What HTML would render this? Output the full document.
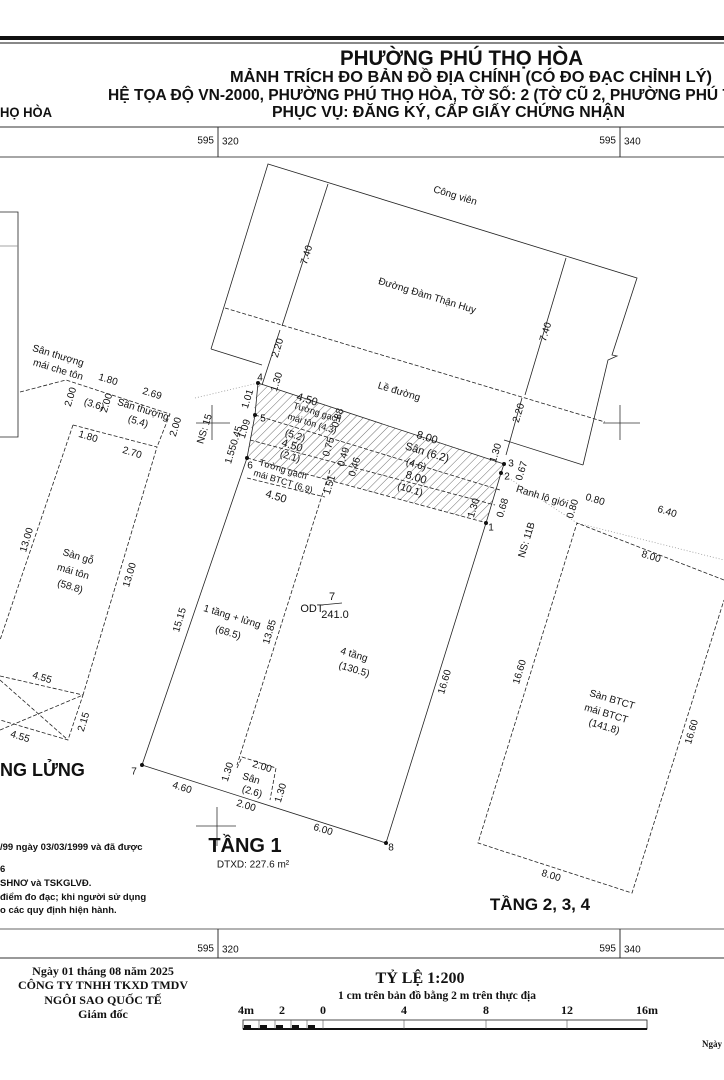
<!DOCTYPE html>
<html><head><meta charset="utf-8"><style>
html,body{margin:0;padding:0;background:#fff;width:724px;height:1080px;overflow:hidden}
svg{display:block}
.t{font-family:"Liberation Sans",sans-serif;font-size:10px;fill:#111;text-anchor:middle;dominant-baseline:middle}
.b{font-family:"Liberation Sans",sans-serif;font-weight:bold;fill:#111;text-anchor:middle}
.s{font-family:"Liberation Serif",serif;font-weight:bold;fill:#111;text-anchor:middle}
.d{stroke:#222;stroke-width:0.8;fill:none;stroke-dasharray:4 2}
.l{stroke:#222;stroke-width:0.8;fill:none}
</style></head><body>
<svg width="724" height="1080" viewBox="0 0 724 1080" xmlns="http://www.w3.org/2000/svg">
<defs>
<pattern id="h" width="6" height="6" patternUnits="userSpaceOnUse" patternTransform="rotate(45)">
<line x1="0" y1="0" x2="0" y2="6" stroke="#333" stroke-width="0.7"/></pattern>
</defs>
<!-- header frame -->
<rect x="0" y="36" width="724" height="4" fill="#111"/>
<line x1="0" y1="43" x2="724" y2="43" stroke="#111" stroke-width="1"/>
<text class="b" x="340" y="65" font-size="21" style="text-anchor:start" textLength="243" lengthAdjust="spacingAndGlyphs">PHƯỜNG PHÚ THỌ HÒA</text>
<text class="b" x="230" y="82" font-size="16" style="text-anchor:start" textLength="482" lengthAdjust="spacingAndGlyphs">MẢNH TRÍCH ĐO BẢN ĐỒ ĐỊA CHÍNH (CÓ ĐO ĐẠC CHỈNH LÝ)</text>
<text class="b" x="108" y="100" font-size="16" style="text-anchor:start" textLength="624" lengthAdjust="spacingAndGlyphs">HỆ TỌA ĐỘ VN-2000, PHƯỜNG PHÚ THỌ HÒA, TỜ SỐ: 2 (TỜ CŨ 2, PHƯỜNG PHÚ T</text>
<text class="b" x="272" y="117" font-size="16" style="text-anchor:start" textLength="353" lengthAdjust="spacingAndGlyphs">PHỤC VỤ: ĐĂNG KÝ, CẤP GIẤY CHỨNG NHẬN</text>
<text class="b" x="0" y="117" font-size="14" style="text-anchor:start" textLength="52" lengthAdjust="spacingAndGlyphs">HỌ HÒA</text>
<line x1="0" y1="127" x2="724" y2="127" stroke="#333" stroke-width="1"/>
<line x1="0" y1="157" x2="724" y2="157" stroke="#888" stroke-width="1.5"/>
<line x1="218" y1="127" x2="218" y2="157" stroke="#333"/>
<line x1="620" y1="127" x2="620" y2="157" stroke="#333"/>
<text class="t" x="214" y="141" style="text-anchor:end" font-size="11">595</text>
<text class="t" x="222" y="142" style="text-anchor:start" font-size="13">320</text>
<text class="t" x="616" y="141" style="text-anchor:end" font-size="11">595</text>
<text class="t" x="624" y="142" style="text-anchor:start" font-size="13">340</text>
<!-- left frame box -->
<polyline points="0,212 18,212 18,437 0,437" class="l" stroke="#888"/>
<line x1="0" y1="246" x2="18" y2="246" stroke="#888" stroke-width="0.8"/>
<!-- road -->
<polyline class="l" points="211,349 268,164 637,278 612,355 617,356 608,360 583,465"/>
<line class="l" x1="211" y1="349" x2="262" y2="365"/>
<line class="d" x1="225" y1="308" x2="605" y2="422"/>
<line class="l" x1="583" y1="465" x2="504" y2="440"/>
<line class="l" x1="328" y1="184" x2="282" y2="326"/>
<line class="l" x1="566" y1="258" x2="525" y2="395"/>
<line class="l" x1="280" y1="330" x2="262" y2="385"/>
<line class="l" x1="522" y1="398" x2="506" y2="455"/>
<!-- dotted ranh lines -->
<polyline points="195,398 258,383" stroke="#999" stroke-width="0.8" fill="none" stroke-dasharray="1 2"/>
<polyline points="501,473 577,523 724,560" stroke="#999" stroke-width="0.8" fill="none" stroke-dasharray="1 2"/>
<!-- hatched strip -->
<polygon points="258,383 504,464 501,473 486,523 247,458" fill="url(#h)" stroke="none"/>
<polyline class="l" points="258,383 504,464 501,473 486,523"/>
<line class="d" x1="255" y1="415" x2="500" y2="490"/>
<line class="d" x1="250" y1="440" x2="495" y2="505"/>
<line class="d" x1="247" y1="458" x2="487" y2="523"/>
<polyline class="l" points="258,383 255,415 247,458"/>
<!-- tang 1 -->
<polyline class="l" points="247,458 142,765 386,843 486,523"/>
<line class="d" x1="247" y1="478" x2="325" y2="497"/>
<line class="d" x1="330" y1="470" x2="237" y2="765"/>
<polyline class="d" points="237,768 242,757 276,768 270,800"/>
<!-- left building -->
<polyline class="d" points="20,392 66,380 170,414 157,447"/>
<polyline class="d" points="73,425 157,447 83,695"/>
<line class="d" x1="73" y1="425" x2="0" y2="640"/>
<polyline class="d" points="0,676 83,695 68,740 0,720"/>
<line class="d" x1="0" y1="730" x2="83" y2="695"/>
<line class="d" x1="0" y1="680" x2="68" y2="740"/>
<!-- tang 2 -->
<polyline class="d" points="724,580 577,523 478,843 632,893 724,600"/>
<!-- crosses -->
<g stroke="#333" stroke-width="0.8">
<line x1="196" y1="423" x2="230" y2="423"/><line x1="212" y1="405" x2="212" y2="440"/>
<line x1="603" y1="423" x2="640" y2="423"/><line x1="620" y1="405" x2="620" y2="440"/>
<line x1="196" y1="826" x2="236" y2="826"/><line x1="217" y1="807" x2="217" y2="846"/>
</g>
<!-- points -->
<g fill="#111"><circle cx="258" cy="383" r="2"/><circle cx="255" cy="415" r="2"/><circle cx="247" cy="458" r="2"/><circle cx="504" cy="464" r="2"/><circle cx="501" cy="473" r="2"/><circle cx="486" cy="523" r="2"/><circle cx="142" cy="765" r="2"/><circle cx="386" cy="843" r="2"/></g>
<!-- labels rot 17 -->
<g class="t">
<text transform="translate(455,196) rotate(17)">Công viên</text>
<text transform="translate(427,296) rotate(17)">Đường Đàm Thận Huy</text>
<text transform="translate(399,392) rotate(17)">Lề đường</text>
<text transform="translate(307,400) rotate(17)" font-size="11">4.50</text>
<text transform="translate(317,413) rotate(17)" font-size="9">Tường gạch</text>
<text transform="translate(312,424) rotate(17)" font-size="9">mái tôn (4.3)</text>
<text transform="translate(295,436) rotate(17)">(5.2)</text>
<text transform="translate(292,446) rotate(17)" font-size="11">4.50</text>
<text transform="translate(290,457) rotate(17)">(2.1)</text>
<text transform="translate(427,438) rotate(17)" font-size="11">8.00</text>
<text transform="translate(427,453) rotate(17)" font-size="11">Sân (6.2)</text>
<text transform="translate(416,465) rotate(17)">(4.6)</text>
<text transform="translate(416,478) rotate(17)" font-size="11">8.00</text>
<text transform="translate(410,490) rotate(17)">(10.1)</text>
<text transform="translate(283,470) rotate(17)" font-size="9">Tường gạch</text>
<text transform="translate(283,482) rotate(17)" font-size="9">mái BTCT (6.9)</text>
<text transform="translate(276,497) rotate(17)" font-size="11">4.50</text>
<text transform="translate(542,497) rotate(17)">Ranh lộ giới</text>
<text transform="translate(595,500) rotate(17)">0.80</text>
<text transform="translate(667,512) rotate(17)">6.40</text>
<text transform="translate(58,356) rotate(17)">Sân thượng</text>
<text transform="translate(58,370) rotate(17)">mái che tôn</text>
<text transform="translate(108,380) rotate(17)">1.80</text>
<text transform="translate(152,394) rotate(17)">2.69</text>
<text transform="translate(94,405) rotate(17)">(3.6)</text>
<text transform="translate(143,410) rotate(17)">Sân thượng</text>
<text transform="translate(138,422) rotate(17)">(5.4)</text>
<text transform="translate(88,437) rotate(17)">1.80</text>
<text transform="translate(132,453) rotate(17)">2.70</text>
<text transform="translate(78,557) rotate(17)">Sàn gỗ</text>
<text transform="translate(73,572) rotate(17)">mái tôn</text>
<text transform="translate(70,587) rotate(17)">(58.8)</text>
<text transform="translate(232,617) rotate(17)">1 tầng + lửng</text>
<text transform="translate(228,633) rotate(17)">(68.5)</text>
<text transform="translate(354,655) rotate(17)">4 tầng</text>
<text transform="translate(354,670) rotate(17)">(130.5)</text>
<text transform="translate(42,678) rotate(17)">4.55</text>
<text transform="translate(20,737) rotate(17)">4.55</text>
<text transform="translate(182,788) rotate(17)">4.60</text>
<text transform="translate(262,767) rotate(17)">2.00</text>
<text transform="translate(251,779) rotate(17)">Sân</text>
<text transform="translate(252,792) rotate(17)">(2.6)</text>
<text transform="translate(246,806) rotate(17)">2.00</text>
<text transform="translate(323,830) rotate(17)">6.00</text>
<text transform="translate(651,557) rotate(17)">8.00</text>
<text transform="translate(612,700) rotate(17)">Sàn BTCT</text>
<text transform="translate(606,714) rotate(17)">mái BTCT</text>
<text transform="translate(604,727) rotate(17)">(141.8)</text>
<text transform="translate(551,876) rotate(17)">8.00</text>
</g>
<!-- labels rot -73 -->
<g class="t">
<text transform="translate(307,255) rotate(-73)">7.40</text>
<text transform="translate(546,332) rotate(-73)">7.40</text>
<text transform="translate(278,348) rotate(-73)">2.20</text>
<text transform="translate(519,413) rotate(-73)">2.20</text>
<text transform="translate(277,382) rotate(-73)">1.30</text>
<text transform="translate(248,399) rotate(-73)">1.01</text>
<text transform="translate(245,429) rotate(-73)">1.09</text>
<text transform="translate(234,445) rotate(-73)">1.550.45</text>
<text transform="translate(338,418) rotate(-73)">0.88</text>
<text transform="translate(329,447) rotate(-73)">0.75</text>
<text transform="translate(344,457) rotate(-73)">0.49</text>
<text transform="translate(355,467) rotate(-73)">0.46</text>
<text transform="translate(496,453) rotate(-73)">1.30</text>
<text transform="translate(522,471) rotate(-73)">0.67</text>
<text transform="translate(474,508) rotate(-73)">1.30</text>
<text transform="translate(503,508) rotate(-73)">0.68</text>
<text transform="translate(573,509) rotate(-73)">0.80</text>
<text transform="translate(205,429) rotate(-73)">NS: 15</text>
<text transform="translate(527,540) rotate(-73)">NS: 11B</text>
<text transform="translate(330,485) rotate(-73)">1.51</text>
<text transform="translate(71,397) rotate(-73)">2.00</text>
<text transform="translate(107,403) rotate(-73)">2.00</text>
<text transform="translate(176,427) rotate(-73)">2.00</text>
<text transform="translate(27,540) rotate(-73)">13.00</text>
<text transform="translate(130,575) rotate(-73)">13.00</text>
<text transform="translate(180,620) rotate(-73)">15.15</text>
<text transform="translate(270,632) rotate(-73)">13.85</text>
<text transform="translate(445,682) rotate(-73)">16.60</text>
<text transform="translate(84,722) rotate(-73)">2.15</text>
<text transform="translate(228,772) rotate(-73)">1.30</text>
<text transform="translate(281,793) rotate(-73)">1.30</text>
<text transform="translate(520,672) rotate(-73)">16.60</text>
<text transform="translate(692,732) rotate(-73)">16.60</text>
</g>
<!-- point numbers -->
<g class="t" font-size="10">
<text x="260" y="378">4</text><text x="263" y="419">5</text><text x="250" y="466">6</text>
<text x="511" y="464">3</text><text x="507" y="477">2</text><text x="491" y="528">1</text>
<text x="134" y="772">7</text><text x="391" y="848">8</text>
<text x="312" y="609" font-size="11">ODT</text><text x="332" y="597" font-size="11">7</text>
<text x="335" y="615" font-size="11">241.0</text>
</g>
<line x1="321" y1="605" x2="342" y2="603" stroke="#222" stroke-width="0.7"/>
<text class="b" x="0" y="776" font-size="18" style="text-anchor:start">NG LỬNG</text>
<text class="b" x="245" y="852" font-size="20">TẦNG 1</text>
<text class="t" x="253" y="865" font-size="13">DTXD: 227.6 m²</text>
<text class="b" x="540" y="910" font-size="17">TẦNG 2, 3, 4</text>
<g font-family="Liberation Sans,sans-serif" font-size="9.5" font-weight="bold" fill="#111">
<text x="0" y="850">/99 ngày 03/03/1999 và đã được</text>
<text x="0" y="872">6</text>
<text x="0" y="886">SHNƠ và TSKGLVĐ.</text>
<text x="0" y="900">điểm đo đạc; khi người sử dụng</text>
<text x="0" y="913">o các quy định hiện hành.</text>
</g>
<!-- bottom frame -->
<line x1="0" y1="929" x2="724" y2="929" stroke="#999" stroke-width="1.5"/>
<line x1="0" y1="958" x2="724" y2="958" stroke="#333" stroke-width="1"/>
<line x1="218" y1="929" x2="218" y2="958" stroke="#333"/>
<line x1="620" y1="929" x2="620" y2="958" stroke="#333"/>
<text class="t" x="214" y="949" style="text-anchor:end" font-size="11">595</text>
<text class="t" x="222" y="950" style="text-anchor:start" font-size="13">320</text>
<text class="t" x="616" y="949" style="text-anchor:end" font-size="11">595</text>
<text class="t" x="624" y="950" style="text-anchor:start" font-size="13">340</text>
<g class="s" font-size="12">
<text x="103" y="975">Ngày 01 tháng 08 năm 2025</text>
<text x="103" y="989">CÔNG TY TNHH TKXD TMDV</text>
<text x="103" y="1004">NGÔI SAO QUỐC TẾ</text>
<text x="103" y="1018">Giám đốc</text>
<text x="420" y="983" font-size="16">TỶ LỆ 1:200</text>
<text x="437" y="999" font-size="11.5">1 cm trên bản đồ bằng 2 m trên thực địa</text>
<text x="246" y="1014" font-size="12">4m</text><text x="282" y="1014" font-size="12">2</text><text x="323" y="1014" font-size="12">0</text>
<text x="404" y="1014" font-size="12">4</text><text x="486" y="1014" font-size="12">8</text><text x="567" y="1014" font-size="12">12</text><text x="647" y="1014" font-size="12">16m</text>
<text x="712" y="1047" font-size="9">Ngày</text>
</g>
<!-- scale bar -->
<rect x="243" y="1020" width="404" height="9" fill="#fff" stroke="#222" stroke-width="0.8"/>
<line x1="243" y1="1029" x2="647" y2="1029" stroke="#111" stroke-width="2"/>
<g fill="#111"><rect x="244" y="1025" width="7" height="4"/><rect x="260" y="1025" width="7" height="4"/><rect x="276" y="1025" width="7" height="4"/><rect x="292" y="1025" width="7" height="4"/><rect x="308" y="1025" width="7" height="4"/></g>
<g stroke="#555" stroke-width="0.6"><line x1="259" y1="1020" x2="259" y2="1029"/><line x1="275" y1="1020" x2="275" y2="1029"/><line x1="291" y1="1020" x2="291" y2="1029"/><line x1="307" y1="1020" x2="307" y2="1029"/><line x1="323" y1="1020" x2="323" y2="1029"/><line x1="404" y1="1020" x2="404" y2="1029"/><line x1="486" y1="1020" x2="486" y2="1029"/><line x1="567" y1="1020" x2="567" y2="1029"/></g>
</svg>
</body></html>
